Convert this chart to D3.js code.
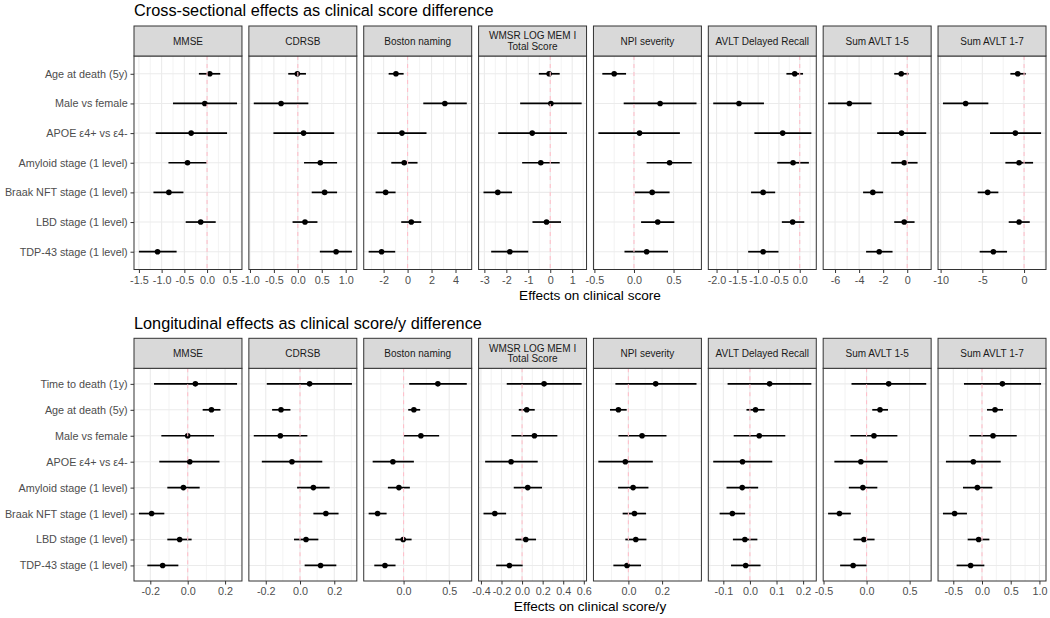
<!DOCTYPE html>
<html><head><meta charset="utf-8">
<script src="https://cdn.jsdelivr.net/npm/d3@7"></script>
<style>body{margin:0;background:#fff} svg{display:block;font-family:"Liberation Sans",Arial,sans-serif}</style>
</head><body><svg id="c" width="1050" height="618"></svg>
<script>
// ---------- data ----------
const outcomes = ["MMSE", "CDRSB", "Boston naming", "WMSR LOG MEM I\nTotal Score", "NPI severity", "AVLT Delayed Recall", "Sum AVLT 1-5", "Sum AVLT 1-7"];

const crossPredictors = ["Age at death (5y)", "Male vs female", "APOE ε4+ vs ε4-", "Amyloid stage (1 level)", "Braak NFT stage (1 level)", "LBD stage (1 level)", "TDP-43 stage (1 level)"];
const longPredictors = ["Time to death (1y)", "Age at death (5y)", "Male vs female", "APOE ε4+ vs ε4-", "Amyloid stage (1 level)", "Braak NFT stage (1 level)", "LBD stage (1 level)", "TDP-43 stage (1 level)"];

const crossEstimate = [
  [0.06, -0.05, -0.35, -0.43, -0.84, -0.14, -1.09],
  [-0.01, -0.35, 0.12, 0.47, 0.56, 0.15, 0.80],
  [-0.97, 3.11, -0.47, -0.28, -1.83, 0.31, -2.17],
  [-0.05, 0.03, -0.82, -0.43, -2.39, -0.17, -1.84],
  [-0.25, 0.33, 0.07, 0.45, 0.23, 0.30, 0.16],
  [-0.12, -1.46, -0.41, -0.16, -0.88, -0.17, -0.88],
  [-0.50, -4.81, -0.47, -0.25, -2.86, -0.25, -2.33],
  [-0.76, -7.00, -1.04, -0.60, -4.36, -0.60, -3.68]
];
const crossLower = [
  [-0.18, -0.75, -1.13, -0.85, -1.18, -0.47, -1.50],
  [-0.20, -0.92, -0.51, 0.13, 0.29, -0.11, 0.46],
  [-1.58, 1.31, -2.53, -1.36, -2.67, -0.53, -3.25],
  [-0.52, -1.37, -2.37, -1.28, -3.04, -0.81, -2.69],
  [-0.40, -0.13, -0.45, 0.16, 0.01, 0.09, -0.12],
  [-0.32, -2.08, -1.09, -0.54, -1.17, -0.43, -1.24],
  [-1.08, -6.58, -2.50, -1.33, -3.67, -1.08, -3.42],
  [-1.64, -9.72, -4.08, -2.24, -5.56, -1.84, -5.32]
];
const crossUpper = [
  [0.29, 0.66, 0.44, -0.01, -0.52, 0.19, -0.67],
  [0.17, 0.22, 0.76, 0.82, 0.82, 0.41, 1.13],
  [-0.33, 4.94, 1.58, 0.83, -1.00, 1.14, -1.03],
  [0.43, 1.43, 0.76, 0.43, -1.74, 0.49, -1.00],
  [-0.10, 0.79, 0.58, 0.73, 0.45, 0.51, 0.43],
  [0.08, -0.86, 0.28, 0.22, -0.59, 0.11, -0.51],
  [0.11, -2.97, 1.58, 0.86, -2.00, 0.61, -1.22],
  [0.20, -4.28, 2.04, 1.08, -3.08, 0.68, -2.04]
];

const longEstimate = [
  [0.041, 0.127, 0.000, 0.011, -0.023, -0.193, -0.043, -0.134],
  [0.056, -0.111, -0.115, -0.047, 0.078, 0.151, 0.035, 0.120],
  [0.376, 0.113, 0.190, -0.117, -0.051, -0.285, -0.004, -0.204],
  [0.214, 0.045, 0.120, -0.107, 0.055, -0.265, 0.036, -0.123],
  [0.162, -0.059, 0.081, -0.018, 0.028, 0.036, 0.044, -0.008],
  [0.074, 0.021, 0.035, -0.028, -0.029, -0.066, -0.019, -0.016],
  [0.257, 0.156, 0.086, -0.066, -0.043, -0.315, -0.031, -0.156],
  [0.355, 0.227, 0.192, -0.151, -0.081, -0.477, -0.058, -0.198]
];
const longLower = [
  [-0.180, 0.080, -0.141, -0.152, -0.109, -0.261, -0.109, -0.216],
  [-0.194, -0.163, -0.270, -0.223, -0.017, 0.078, -0.035, 0.027],
  [0.062, 0.051, 0.004, -0.339, -0.172, -0.383, -0.091, -0.321],
  [-0.149, -0.032, -0.104, -0.359, -0.081, -0.375, -0.065, -0.252],
  [-0.077, -0.109, -0.059, -0.178, -0.061, -0.034, -0.018, -0.089],
  [-0.084, -0.013, -0.061, -0.138, -0.088, -0.114, -0.064, -0.071],
  [-0.175, 0.066, -0.187, -0.374, -0.206, -0.447, -0.152, -0.307],
  [-0.314, 0.087, -0.221, -0.628, -0.331, -0.680, -0.250, -0.442]
];
const longUpper = [
  [0.264, 0.175, 0.141, 0.170, 0.064, -0.125, 0.021, -0.050],
  [0.303, -0.056, 0.043, 0.130, 0.173, 0.225, 0.107, 0.212],
  [0.693, 0.182, 0.390, 0.113, 0.069, -0.186, 0.088, -0.088],
  [0.579, 0.123, 0.343, 0.152, 0.194, -0.155, 0.136, 0.006],
  [0.404, -0.010, 0.226, 0.145, 0.119, 0.105, 0.107, 0.075],
  [0.231, 0.055, 0.133, 0.084, 0.031, -0.018, 0.028, 0.040],
  [0.693, 0.249, 0.358, 0.245, 0.125, -0.183, 0.093, 0.000],
  [1.029, 0.366, 0.605, 0.326, 0.180, -0.262, 0.128, 0.041]
];

const crossTicks = [
  [-1.5, -1.0, -0.5, 0.0, 0.5],
  [-1.0, -0.5, 0.0, 0.5, 1.0],
  [-2, 0, 2, 4],
  [-3, -2, -1, 0, 1],
  [-0.5, 0.0, 0.5],
  [-2.0, -1.5, -1.0, -0.5, 0.0],
  [-6, -4, -2, 0],
  [-10, -5, 0]
];
const longTicks = [
  [-0.2, 0.0, 0.2],
  [-0.2, 0.0, 0.2],
  [0.0, 0.5],
  [-0.4, -0.2, 0.0, 0.2, 0.4, 0.6],
  [0.0, 0.2],
  [-0.1, 0.0, 0.1, 0.2],
  [-0.5, 0.0, 0.5],
  [-0.5, 0.0, 0.5, 1.0]
];

const crossTitle = "Cross-sectional effects as clinical score difference";
const longTitle = "Longitudinal effects as clinical score/y difference";
const crossAxisTitle = "Effects on clinical score";
const longAxisTitle = "Effects on clinical score/y";

// ---------- layout ----------
const svg = d3.select("#c");
const panelLeft = 134, panelRight = 1046, nPanels = outcomes.length, panelGap = 6.9;
const panelW = (panelRight - panelLeft - panelGap * (nPanels - 1)) / nPanels;
const stripH = 30;
const grey20 = "#333333", grey30 = "#4D4D4D", grid = "#EBEBEB";

function fmtTick(ticks) {
  const step = ticks.length > 1 ? Math.abs(ticks[1] - ticks[0]) : 1;
  const allInt = ticks.every(t => Number.isInteger(t));
  const p = allInt ? 0 : d3.precisionFixed(step);
  const f = d3.format("." + p + "f");
  return v => f(v).replace("\u2212", "-");
}

function drawSection(cfg) {
  const g = svg.append("g");
  g.append("text").attr("x", panelLeft).attr("y", cfg.titleY)
    .attr("font-size", 16.3).attr("fill", "#000").text(cfg.title);

  const panelTop = cfg.stripTop + stripH;
  const y = d3.scalePoint().domain(cfg.predictors).range([panelTop, cfg.panelBottom]).padding(0.6);

  outcomes.forEach((name, i) => {
    const x0 = panelLeft + i * (panelW + panelGap);
    const lo = cfg.lower[i], hi = cfg.upper[i], est = cfg.est[i];
    const mn = Math.min(0, d3.min(lo)), mx = Math.max(0, d3.max(hi));
    const pad = (mx - mn) * 0.05;
    const x = d3.scaleLinear().domain([mn - pad, mx + pad]).range([x0, x0 + panelW]);
    const ticks = cfg.ticks[i];
    const step = Math.abs(ticks[1] - ticks[0]);
    const minors = [];
    for (let v = ticks[0] - step / 2; v <= x.domain()[1] + 1e-9; v += step) {
      if (v >= x.domain()[0]) minors.push(v);
    }
    const p = g.append("g");
    p.append("rect").attr("x", x0).attr("y", panelTop).attr("width", panelW)
      .attr("height", cfg.panelBottom - panelTop).attr("fill", "#fff");
    // minor grid
    p.selectAll(".mi").data(minors).join("line")
      .attr("x1", d => x(d)).attr("x2", d => x(d))
      .attr("y1", panelTop).attr("y2", cfg.panelBottom)
      .attr("stroke", grid).attr("stroke-width", 0.6);
    // major grid
    p.selectAll(".ma").data(ticks).join("line")
      .attr("x1", d => x(d)).attr("x2", d => x(d))
      .attr("y1", panelTop).attr("y2", cfg.panelBottom)
      .attr("stroke", grid).attr("stroke-width", 1.1);
    p.selectAll(".hy").data(cfg.predictors).join("line")
      .attr("x1", x0).attr("x2", x0 + panelW)
      .attr("y1", d => y(d)).attr("y2", d => y(d))
      .attr("stroke", grid).attr("stroke-width", 1.1);
    // error bars
    p.selectAll(".eb").data(cfg.predictors).join("line")
      .attr("x1", (d, j) => x(lo[j])).attr("x2", (d, j) => x(hi[j]))
      .attr("y1", d => y(d)).attr("y2", d => y(d))
      .attr("stroke", "#000").attr("stroke-width", 1.7);
    // points
    p.selectAll(".pt").data(cfg.predictors).join("circle")
      .attr("cx", (d, j) => x(est[j])).attr("cy", d => y(d)).attr("r", 2.8)
      .attr("fill", "#000");
    // zero line
    p.append("line").attr("x1", x(0)).attr("x2", x(0))
      .attr("y1", panelTop).attr("y2", cfg.panelBottom)
      .attr("stroke", "#FFC0CB").attr("stroke-width", 1.1).attr("stroke-dasharray", "4,4");
    // border
    p.append("rect").attr("x", x0).attr("y", panelTop).attr("width", panelW)
      .attr("height", cfg.panelBottom - panelTop).attr("fill", "none")
      .attr("stroke", grey20).attr("stroke-width", 1);
    // strip
    p.append("rect").attr("x", x0).attr("y", cfg.stripTop).attr("width", panelW)
      .attr("height", stripH).attr("fill", "#D9D9D9").attr("stroke", grey20).attr("stroke-width", 1);
    const lines = name.split("\n");
    const st = p.append("text").attr("text-anchor", "middle").attr("font-size", 10)
      .attr("fill", "#1A1A1A");
    lines.forEach((ln, k) => {
      st.append("tspan").attr("x", x0 + panelW / 2)
        .attr("y", cfg.stripTop + stripH / 2 + (k - (lines.length - 1) / 2) * 10.6)
        .attr("dy", "0.36em").text(ln);
    });
    // x axis
    const ax = d3.axisBottom(x).tickValues(ticks).tickFormat(fmtTick(ticks))
      .tickSize(3.5).tickPadding(3);
    const axg = p.append("g").attr("transform", `translate(0,${cfg.panelBottom})`).call(ax);
    axg.select(".domain").remove();
    axg.selectAll(".tick line").attr("stroke", grey20);
    axg.selectAll(".tick text").attr("fill", grey30).attr("font-size", 10.8)
      .attr("font-family", "Liberation Sans, Arial, sans-serif");
    // y axis on first panel
    if (i === 0) {
      const ay = d3.axisLeft(y).tickSize(3.5).tickPadding(2.8);
      const ayg = p.append("g").attr("transform", `translate(${x0},0)`).call(ay);
      ayg.select(".domain").remove();
      ayg.selectAll(".tick line").attr("stroke", grey20);
      ayg.selectAll(".tick text").attr("fill", grey30).attr("font-size", 10.8)
        .attr("font-family", "Liberation Sans, Arial, sans-serif");
    }
  });
  g.append("text").attr("x", (panelLeft + panelRight) / 2).attr("y", cfg.axisTitleY)
    .attr("text-anchor", "middle").attr("font-size", 13.6).attr("fill", "#000").text(cfg.axisTitle);
}

drawSection({
  title: crossTitle, titleY: 16, stripTop: 26, panelBottom: 269.5, axisTitleY: 299.5,
  predictors: crossPredictors, est: crossEstimate, lower: crossLower, upper: crossUpper,
  ticks: crossTicks, axisTitle: crossAxisTitle
});
drawSection({
  title: longTitle, titleY: 328.5, stripTop: 338.3, panelBottom: 581, axisTitleY: 610.5,
  predictors: longPredictors, est: longEstimate, lower: longLower, upper: longUpper,
  ticks: longTicks, axisTitle: longAxisTitle
});
</script>
</body></html>
